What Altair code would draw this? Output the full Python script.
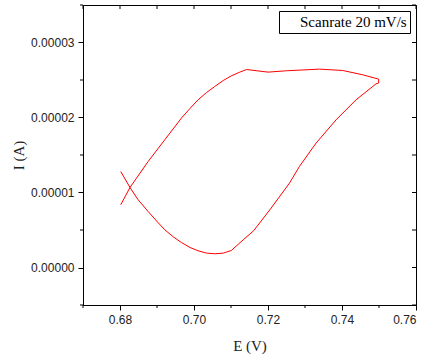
import altair as alt
import pandas as pd

# Cyclic voltammogram (E in V, I in A)
E_vals = [0.6802, 0.6827, 0.6849, 0.6876, 0.6899, 0.6921, 0.6944, 0.6966, 0.6989,
          0.7011, 0.7034, 0.7056, 0.7079, 0.7101, 0.7133, 0.7161, 0.7205, 0.7258,
          0.7285, 0.7330, 0.7384, 0.7438, 0.7492, 0.7499, 0.7499,
          0.7456, 0.7402, 0.7339, 0.7250, 0.7200, 0.7142, 0.7124, 0.7101, 0.7079,
          0.7056, 0.7034, 0.7011, 0.6989, 0.6966, 0.6921, 0.6876, 0.6827, 0.6802]
I_vals = [1.280e-5, 1.067e-5, 0.903e-5, 0.747e-5, 0.619e-5, 0.503e-5, 0.409e-5, 0.333e-5, 0.267e-5,
          0.223e-5, 0.192e-5, 0.183e-5, 0.192e-5, 0.227e-5, 0.369e-5, 0.489e-5, 0.769e-5, 1.125e-5,
          1.347e-5, 1.659e-5, 1.969e-5, 2.236e-5, 2.449e-5, 2.459e-5, 2.512e-5,
          2.569e-5, 2.627e-5, 2.645e-5, 2.623e-5, 2.605e-5, 2.640e-5, 2.605e-5, 2.556e-5, 2.493e-5,
          2.413e-5, 2.333e-5, 2.236e-5, 2.120e-5, 1.992e-5, 1.703e-5, 1.413e-5, 1.067e-5, 0.836e-5]
series_name = "Scanrate 20 mV/s"

x_major = [0.68, 0.70, 0.72, 0.74, 0.76]
x_minor = [0.67, 0.69, 0.71, 0.73, 0.75]
y_major = [0.0, 0.00001, 0.00002, 0.00003]
y_minor = [-0.000005, 0.000005, 0.000015, 0.000025, 0.000035]

W, H = 333, 300
x_dom = [0.67, 0.76]
y_dom = [-0.000005, 0.000035]

df = pd.DataFrame({"E": E_vals, "I": I_vals, "order": list(range(len(E_vals))),
                   "series": [series_name] * len(E_vals)})

xs = alt.Scale(domain=x_dom, nice=False, zero=False)
ys = alt.Scale(domain=y_dom, nice=False, zero=False)

curve = alt.Chart(df).mark_line(color="red", strokeWidth=1, clip=True).encode(
    x=alt.X("E:Q", scale=xs, title="E (V)",
            axis=alt.Axis(values=x_major, format=".2f", tickSize=5, labelPadding=4,
                          titlePadding=13)),
    y=alt.Y("I:Q", scale=ys, title="I (A)",
            axis=alt.Axis(values=y_major, format=".5f", tickSize=5, labelPadding=4,
                          titlePadding=4)),
    order="order:Q",
    color=alt.Color("series:N", scale=alt.Scale(range=["red"]),
                    legend=alt.Legend(title=None, orient="none", legendX=196, legendY=6,
                                      symbolType="stroke", symbolSize=36, symbolOpacity=0,
                                      symbolStrokeWidth=0, labelOffset=3,
                                      labelFont="Liberation Serif", labelFontSize=15,
                                      labelColor="black",
                                      strokeColor="black", fillColor="white",
                                      padding=3, cornerRadius=0)),
)

xmin_df = pd.DataFrame({"v": x_minor})
ymin_df = pd.DataFrame({"v": y_minor})
xall_df = pd.DataFrame({"v": x_major + x_minor})
yall_df = pd.DataFrame({"v": y_major + y_minor})

bottom_minor = alt.Chart(xmin_df).mark_rule(color="black", strokeWidth=1).encode(
    x=alt.X("v:Q", scale=xs), y=alt.value(H), y2=alt.value(H + 3))
left_minor = alt.Chart(ymin_df).mark_rule(color="black", strokeWidth=1).encode(
    y=alt.Y("v:Q", scale=ys), x=alt.value(-3), x2=alt.value(0))
top_in = alt.Chart(xall_df).mark_rule(color="black", strokeWidth=1).encode(
    x=alt.X("v:Q", scale=xs), y=alt.value(0), y2=alt.value(4))
right_in = alt.Chart(yall_df).mark_rule(color="black", strokeWidth=1).encode(
    y=alt.Y("v:Q", scale=ys), x=alt.value(W - 4), x2=alt.value(W))

chart = alt.layer(curve, bottom_minor, left_minor, top_in, right_in).properties(
    width=W, height=H,
    autosize=alt.AutoSizeParams(type="none"),
    padding={"left": 83, "top": 5, "right": 18, "bottom": 55},
    background="white",
).configure_view(stroke="black", strokeWidth=1).configure_axis(
    grid=False, domainColor="black", tickColor="black", labelColor="#222222",
    labelFont="Liberation Sans", labelFontSize=12,
    titleFont="Liberation Serif", titleFontSize=15, titleFontWeight="normal",
    titleColor="#222222",
)

chart.save("out.html", embed_options={"renderer": "svg", "actions": False})
